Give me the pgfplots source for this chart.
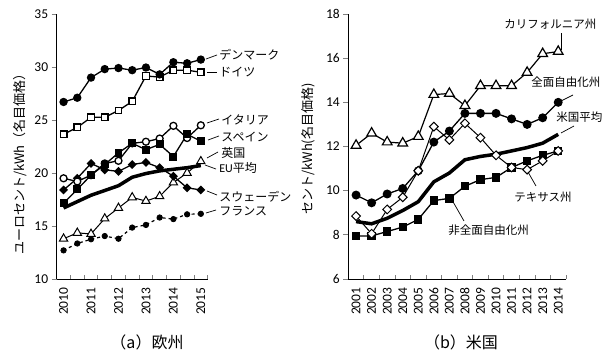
\documentclass[border=0pt]{standalone}
\usepackage{pgfplots}
\pgfplotsset{compat=1.18}
\usepackage{fontspec}
\setmainfont{Carlito}
\newfontfamily\jp{Noto Sans CJK JP}

\pgfplotsset{
  base/.style={
    scale only axis, clip=false,
    axis lines=left, axis line style={-, line width=0.8pt},
    tick align=outside, major tick length=5pt,
    major x tick style={draw=none},
    minor tick length=3.5pt,
    minor x tick style={line width=0.8pt, yshift=3.5pt},
    ytick style={line width=0.8pt},
    /pgf/number format/assume math mode=true,
    ticklabel style={font=\fontsize{13.5}{14}\selectfont},
    xticklabel style={rotate=90, anchor=east},
  },
  ser/.style={black, line width=1.3pt, mark options={solid, line width=0.8pt}},
  avg/.style={black, line width=3.5pt, no markers},
}

\begin{document}
\begin{tikzpicture}
\path[use as bounding box] (0,0) rectangle (605pt,358pt);

% ---------------- (a) Europe ----------------
\begin{axis}[base,
  at={(56.7pt,79pt)}, anchor=south west,
  width=151pt, height=265pt,
  xmin=-0.5, xmax=10.5, ymin=10, ymax=35,
  xtick={0,2,4,6,8,10},
  xticklabels={2010,2011,2012,2013,2014,2015},
  minor xtick={0.5,1.5,...,10.5},
  ytick={10,15,20,25,30,35},
]
% EU average
\addplot[avg] coordinates {(0,16.7)(1,17.3)(2,17.9)(3,18.35)(4,18.8)(5,19.6)(6,19.95)(7,20.2)(8,20.35)(9,20.5)(10,20.7)};
% France
\addplot[ser, dashed, line width=1.2pt, mark=*, mark size=2.7pt] coordinates {(0,12.7)(1,13.35)(2,13.75)(3,14.05)(4,13.8)(5,14.85)(6,15.1)(7,15.8)(8,15.65)(9,16.1)(10,16.15)};
% UK
\addplot[ser, line width=1pt, mark=triangle*, mark size=4.8pt, mark options={fill=white}] coordinates {(0,13.8)(1,14.35)(2,14.25)(3,15.7)(4,16.7)(5,17.7)(6,17.35)(7,17.8)(8,19.1)(9,20.0)(10,21.1)};
% Sweden
\addplot[ser, mark=square*, mark size=2.5pt, mark options={rotate=45, fill=black}] coordinates {(0,18.4)(1,19.5)(2,20.9)(3,20.3)(4,20.15)(5,20.8)(6,21.0)(7,20.5)(8,19.7)(9,18.6)(10,18.4)};
% Italy
\addplot[ser, mark=*, mark size=3.5pt, mark options={fill=white}] coordinates {(0,19.5)(1,19.2)(2,19.8)(3,20.9)(4,21.15)(5,22.8)(6,22.95)(7,23.25)(8,24.45)(9,23.3)(10,24.5)};
% Spain
\addplot[ser, mark=square*, mark size=3.3pt, mark options={fill=black}] coordinates {(0,17.15)(1,18.45)(2,19.8)(3,20.8)(4,21.9)(5,22.8)(6,22.2)(7,22.7)(8,21.55)(9,23.65)(10,23.0)};
% Germany
\addplot[ser, mark=square*, mark size=3.3pt, mark options={fill=white}] coordinates {(0,23.65)(1,24.3)(2,25.25)(3,25.25)(4,25.9)(5,26.75)(6,29.15)(7,29.05)(8,29.7)(9,29.7)(10,29.5)};
% Denmark
\addplot[ser, mark=*, mark size=3.5pt, mark options={fill=black}] coordinates {(0,26.7)(1,27.1)(2,29.0)(3,29.8)(4,29.9)(5,29.7)(6,29.95)(7,29.3)(8,30.45)(9,30.35)(10,30.7)};
\end{axis}

% ---------------- (b) United States ----------------
\begin{axis}[base,
  at={(348.3pt,79pt)}, anchor=south west,
  width=217.7pt, height=265pt,
  xmin=-0.5, xmax=13.5, ymin=6, ymax=18,
  xtick={0,1,...,13},
  xticklabels={2001,2002,2003,2004,2005,2006,2007,2008,2009,2010,2011,2012,2013,2014},
  minor xtick={0.5,1.5,...,13.5},
  ytick={6,8,10,12,14,16,18},
]
% US average
\addplot[avg] coordinates {(0,8.6)(1,8.5)(2,8.75)(3,9.1)(4,9.5)(5,10.4)(6,10.8)(7,11.4)(8,11.55)(9,11.65)(10,11.8)(11,11.95)(12,12.15)(13,12.55)};
% not fully deregulated states
\addplot[ser, mark=square*, mark size=3.5pt, mark options={fill=black}] coordinates {(0,7.95)(1,7.95)(2,8.15)(3,8.35)(4,8.7)(5,9.55)(6,9.65)(7,10.2)(8,10.5)(9,10.6)(10,11.05)(11,11.35)(12,11.6)(13,11.8)};
% fully deregulated states
\addplot[ser, mark=*, mark size=3.8pt, mark options={fill=black}] coordinates {(0,9.8)(1,9.45)(2,9.85)(3,10.1)(4,10.9)(5,12.2)(6,12.7)(7,13.5)(8,13.5)(9,13.5)(10,13.25)(11,13.0)(12,13.3)(13,14.0)};
% Texas
\addplot[ser, line width=1pt, mark=square*, mark size=3.1pt, mark options={rotate=45, fill=white}] coordinates {(0,8.85)(1,8.05)(2,9.15)(3,9.7)(4,10.9)(5,12.9)(6,12.3)(7,13.05)(8,12.4)(9,11.6)(10,11.05)(11,10.95)(12,11.35)(13,11.8)};
% California
\addplot[ser, line width=1.2pt, mark=triangle*, mark size=5.6pt, mark options={fill=white}] coordinates {(0,12.05)(1,12.6)(2,12.2)(3,12.15)(4,12.45)(5,14.35)(6,14.4)(7,13.85)(8,14.75)(9,14.75)(10,14.75)(11,15.35)(12,16.2)(13,16.3)};
\end{axis}

% ---------------- labels (pixel-style coordinates, y downward) ----------------
\begin{scope}[x=1pt, y=-1pt, yshift=358pt, line width=0.7pt]
  \def\lab{\fontsize{12}{12}\selectfont\jp}
  \def\labb{\fontsize{11.5}{12}\selectfont\jp}
  % axis titles
  \node[rotate=90, font=\fontsize{13}{13}\selectfont\jp] at (20,161) {ユーロセント/kWh（名目価格）};
  \node[rotate=90, font=\fontsize{13}{13}\selectfont\jp] at (308,149) {セント/kWh(名目価格)};
  % captions
  \node[font=\fontsize{16}{16}\selectfont\jp] at (147,342) {（a）欧州};
  \node[font=\fontsize{16}{16}\selectfont\jp] at (461,342) {（b）米国};

  % Europe series names
  \draw (206,59) -- (217,55);
  \node[anchor=west, inner sep=1pt, font=\lab] at (218,55) {デンマーク};
  \draw (207,72) -- (217,72);
  \node[anchor=west, inner sep=1pt, font=\lab] at (218,72) {ドイツ};
  \draw (207,123) -- (219,119);
  \node[anchor=west, inner sep=1pt, font=\lab] at (220,120) {イタリア};
  \draw (208,140) -- (219,136);
  \node[anchor=west, inner sep=1pt, font=\lab] at (220,137) {スペイン};
  \draw (207,158) -- (218,152);
  \node[anchor=west, inner sep=1pt, font=\lab] at (220,153) {英国};
  \draw (205,165) -- (216,169);
  \node[anchor=west, inner sep=1pt, font=\lab] at (218,168) {\fontspec{Carlito}EU\jp 平均};
  \draw (207,191) -- (217,195);
  \node[anchor=west, inner sep=1pt, font=\lab] at (218,197) {スウェーデン};
  \draw (206,213) -- (216,210);
  \node[anchor=west, inner sep=1pt, font=\lab] at (218,211) {フランス};

  % US series names
  \draw (561,50) -- (561,33);
  \node[anchor=west, inner sep=1pt, font=\labb] at (503,24) {カリフォルニア州};
  \draw (561,101) -- (573,95);
  \node[anchor=west, inner sep=1pt, font=\labb] at (530,82) {全面自由化州};
  \draw (561,133) -- (574,126);
  \node[anchor=west, inner sep=1pt, font=\labb] at (555,117) {米国平均};
  \draw (528,172) -- (536,186);
  \node[anchor=west, inner sep=1pt, font=\labb] at (513,197) {テキサス州};
  \draw (452,200) -- (464,221);
  \node[anchor=west, inner sep=1pt, font=\labb] at (447,230) {非全面自由化州};
\end{scope}
\end{tikzpicture}
\end{document}
